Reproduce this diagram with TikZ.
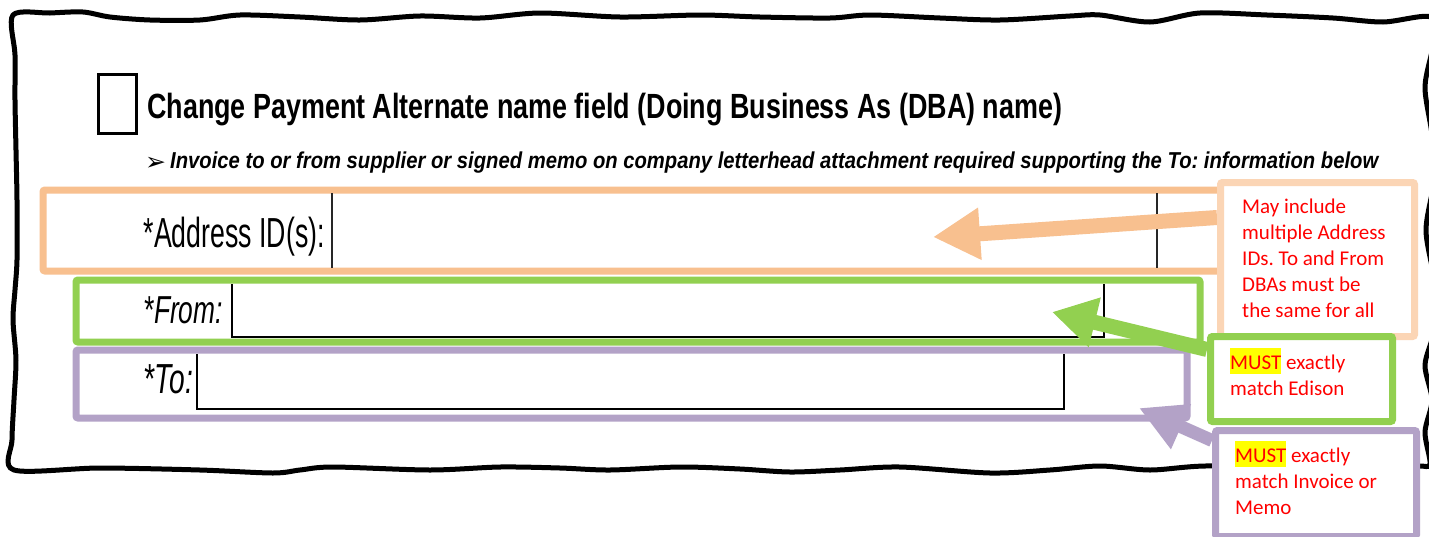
\documentclass[tikz,border=0pt]{standalone}
\usepackage{fontspec}
\setmainfont{Liberation Sans}
\newfontfamily\calfont{Carlito}
\newfontfamily\dejavu{DejaVu Sans}
\usetikzlibrary{arrows.meta,calc}
\definecolor{boxorange}{HTML}{F8C08F}
\definecolor{peach}{HTML}{FBD5B5}
\definecolor{boxgreen}{HTML}{92D050}
\definecolor{boxpurple}{HTML}{B3A2C7}
\definecolor{notered}{HTML}{FF0000}
\definecolor{hlyellow}{HTML}{FFFF00}
\newcommand{\hlmust}{{\setlength{\fboxsep}{0pt}\colorbox{hlyellow}{\rule[-5pt]{0pt}{26pt}MUST}}}
\pgfdeclarelayer{front}
\pgfsetlayers{main,front}
\frenchspacing
\tikzset{
  framebox/.style={line width=7pt, rounded corners=2pt},
  fieldline/.style={line width=2pt, draw=black},
  formtext/.style={inner sep=0pt, text=black},
  callout/.style={draw, fill=white, line width=7pt, rounded corners=2pt, inner sep=0pt, anchor=north west},
  notetext/.style={inner sep=0pt, anchor=north west, align=left, text=notered, font=\calfont\fontsize{21}{26}\selectfont},
  bigarrow/.style={line cap=butt},
}
\begin{document}
\begin{tikzpicture}[x=1pt,y=-1pt]
\useasboundingbox (0,0) rectangle (1429,536);
\fill[white] (0,0) rectangle (1429,536);
\begin{scope}
\clip (0,0) rectangle (1429,536);
% hand-drawn frame
\draw[line width=5pt, line join=round] plot[smooth cycle, tension=0.5] coordinates {
 (13,15) (50,13) (83,12) (110,17) (150,20) (200,20) (240,15) (300,17) (360,20) (420,16) (480,18)
 (540,13) (620,17) (700,15) (760,17) (830,18) (870,15) (940,18) (1000,20) (1070,16) (1100,15)
 (1150,22) (1200,13) (1267,15) (1333,18) (1383,22) (1431,17)
 (1433,45) (1425,87) (1432,135) (1434,180) (1426,230) (1434,280) (1434,330) (1425,365) (1432,400) (1425,432) (1430,464)
 (1418,466) (1380,468) (1300,467) (1205,466) (1150,470) (1100,466) (1050,470) (990,473) (900,467)
 (840,470) (790,472) (740,469) (680,467) (610,470) (560,468) (500,467) (430,470) (333,467) (300,470)
 (273,473) (200,470) (100,468) (14,470)
 (12,440) (14,400) (16,360) (13,320) (15,290) (17,260) (17,200) (16,150) (15,100) (15,55)};
\end{scope}

% checkbox and headings
\node[draw, line width=2.5pt, minimum width=38pt, minimum height=59pt, inner sep=0pt, anchor=north west] (check) at (97,73) {};
\node[formtext, anchor=base west] (title) at (147,118)
  {\resizebox{915pt}{\height}{\fontsize{35}{40}\selectfont\bfseries Change Payment Alternate name field (Doing Business As (DBA) name)}};
\node[formtext, anchor=base west] (bullet) at (145,170) {\dejavu\fontsize{25}{28}\selectfont ➢};
\node[formtext, anchor=base west] (sub) at (170,168)
  {\resizebox{1208pt}{\height}{\fontsize{23}{26}\selectfont\bfseries\itshape Invoice to or from supplier or signed memo on company letterhead attachment required supporting the To: information below}};

% highlighted rows
\draw[framebox, boxorange] (43,190) rectangle (1225,271);
\draw[line width=1.5pt, black!85] (332,193) -- (332,268);
\draw[line width=1.5pt, black!85] (1157,193) -- (1157,268);
\node[formtext, anchor=base east] (addrlabel) at (325,247)
  {\resizebox{181pt}{\height}{\fontsize{42}{46}\selectfont *Address ID(s):}};

\draw[framebox, boxgreen] (76,280) rectangle (1200,342);
\draw[fieldline] (232,284) -- (232,337) -- (1104,337) -- (1104,284);
\node[formtext, anchor=base east] (fromlabel) at (223,323)
  {\resizebox{79pt}{\height}{\fontsize{39}{42}\selectfont\itshape *From:}};

\draw[framebox, boxpurple] (76,350) rectangle (1187,418);
\draw[fieldline] (197,354) -- (197,409) -- (1064,409) -- (1064,354);
\node[formtext, anchor=base east] (tolabel) at (193,393)
  {\resizebox{49pt}{\height}{\fontsize{42}{46}\selectfont\itshape *To:}};

% callouts (front layer)
\begin{pgfonlayer}{front}
\node[callout, draw=peach, minimum width=194pt, minimum height=154pt] (noteA) at (1217,179) {};
\node[notetext] (noteAtext) at (1242,194.8) {\strut May include\\multiple Address\\IDs. To and From\\DBAs must be\\the same for all};
\node[callout, draw=boxgreen, minimum width=182pt, minimum height=85pt] (noteB) at (1207,333) {};
\node[notetext] (noteBtext) at (1230,348) {\hlmust{} exactly\\match Edison};
\node[callout, draw=boxpurple, minimum width=201pt, minimum height=106pt] (noteC) at (1212,427) {};
\node[notetext] (noteCtext) at (1235,441) {\hlmust{} exactly\\match Invoice or\\Memo};
\end{pgfonlayer}

% arrows
\coordinate (tipA) at (933,237);
\coordinate (tipB) at (1052,312);
\coordinate (tipC) at (1139,408);
\draw[bigarrow, boxorange, line width=15pt, -{Triangle[length=47pt,width=49pt]}] ($(noteA.west)+(0,-42)$) -- (tipA);
\draw[bigarrow, boxgreen, line width=15pt, -{Triangle[length=44pt,width=48pt]}] ($(noteB.west)+(0,-29.5)$) -- (tipB);
\draw[bigarrow, boxpurple, line width=13pt, -{Triangle[length=46pt,width=46pt]}] ($(noteC.west)+(0,-43)$) -- (tipC);
\end{tikzpicture}
\end{document}
